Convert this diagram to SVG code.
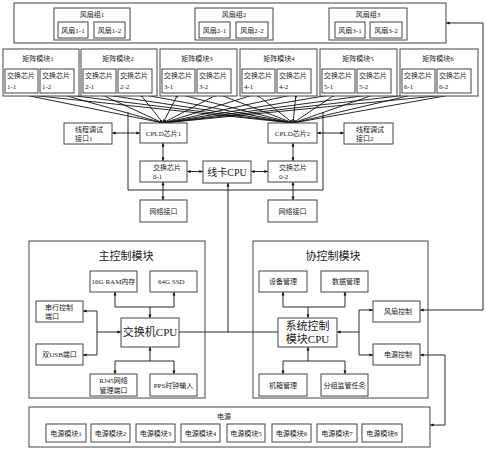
<svg xmlns="http://www.w3.org/2000/svg" width="486" height="450" viewBox="0 0 486 450">
<style>
.b{fill:#fff;stroke:#444;stroke-width:1}
.t{font-family:"Liberation Serif","Noto Sans CJK SC",serif;font-size:7px;fill:#222}
.c{text-anchor:middle}
.L{font-size:11px}
.M{font-size:10px}
.ln{fill:none;stroke:#111;stroke-width:0.9}
.ar{fill:none;stroke:#111;stroke-width:0.9;marker-start:url(#a);marker-end:url(#a)}
.ae{fill:none;stroke:#111;stroke-width:0.9;marker-end:url(#a)}
</style>
<defs>
<marker id="a" viewBox="0 0 6 6" refX="6" refY="3" markerWidth="4" markerHeight="4" orient="auto-start-reverse"><path d="M0,0.5 L6,3 L0,5.5 Z" fill="#111"/></marker>
</defs>
<rect width="486" height="450" fill="#fff"/>

<g id="connectors">
<!-- matrix chips to CPLD1 -->
<path class="ar" d="M20,94 L163,123"/><path class="ar" d="M60,94 L163,123"/><path class="ar" d="M100,94 L163,123"/><path class="ar" d="M140,94 L163,123"/><path class="ar" d="M178,94 L163,123"/><path class="ar" d="M218,94 L163,123"/><path class="ar" d="M256,94 L163,123"/><path class="ar" d="M296,94 L163,123"/><path class="ar" d="M336,94 L163,123"/><path class="ar" d="M376,94 L163,123"/><path class="ar" d="M416,94 L163,123"/><path class="ar" d="M456,94 L163,123"/>
<!-- matrix chips to CPLD2 -->
<path class="ar" d="M20,94 L293,123"/><path class="ar" d="M60,94 L293,123"/><path class="ar" d="M100,94 L293,123"/><path class="ar" d="M140,94 L293,123"/><path class="ar" d="M178,94 L293,123"/><path class="ar" d="M218,94 L293,123"/><path class="ar" d="M256,94 L293,123"/><path class="ar" d="M296,94 L293,123"/><path class="ar" d="M336,94 L293,123"/><path class="ar" d="M376,94 L293,123"/><path class="ar" d="M416,94 L293,123"/><path class="ar" d="M456,94 L293,123"/>
<!-- line card enclosure -->
<path class="ln" d="M128,112 V190 H323 V112"/>
<!-- line card internal -->
<path class="ar" d="M112,133 H140"/>
<path class="ar" d="M317,133 H344"/>
<path class="ar" d="M163,143 V161"/>
<path class="ar" d="M293,143 V161"/>
<path class="ar" d="M187,171.5 H203"/>
<path class="ar" d="M251,171.5 H268"/>
<path class="ar" d="M163,182 V200"/>
<path class="ar" d="M293,182 V200"/>
<!-- line card CPU to main/co control -->
<path class="ae" d="M228,332 V183"/>
<path class="ln" d="M179,332 H278"/>
<!-- main control internal -->
<path class="ae" d="M150,307 V318"/>
<path class="ln" d="M115,307 H174"/>
<path class="ae" d="M115,307 V292"/>
<path class="ae" d="M174,307 V292"/>
<path class="ae" d="M97,332 H121"/>
<path class="ln" d="M97,311 V355"/>
<path class="ae" d="M97,311 H83"/>
<path class="ae" d="M97,355 H83"/>
<path class="ae" d="M150,361 V347"/>
<path class="ln" d="M115,361 H174"/>
<path class="ae" d="M115,361 V374"/>
<path class="ae" d="M174,361 V374"/>
<!-- co control internal -->
<path class="ae" d="M308,307 V318"/>
<path class="ln" d="M283,307 H345"/>
<path class="ae" d="M283,307 V292"/>
<path class="ae" d="M345,307 V292"/>
<path class="ae" d="M359,332 H337"/>
<path class="ln" d="M359,310 V355"/>
<path class="ae" d="M359,310 H373"/>
<path class="ae" d="M359,355 H373"/>
<path class="ae" d="M308,361 V347"/>
<path class="ln" d="M283,361 H345"/>
<path class="ae" d="M283,361 V374"/>
<path class="ae" d="M345,361 V374"/>
<!-- fan control / power control -->
<path class="ar" d="M420,310 H483 V23 H446"/>
<path class="ar" d="M420,355 H445 V425 H430"/>
</g>

<g id="fanbox">
<rect class="b" x="14" y="3" width="432" height="40"/>
</g>
<g id="fangroup1">
<rect class="b" x="54" y="8" width="76" height="32"/>
<text class="t c" x="92" y="17">风扇组1</text>
<rect class="b" x="58" y="22" width="30" height="16"/><text class="t c" x="73" y="32.5">风扇1-1</text>
<rect class="b" x="94" y="22" width="31" height="16"/><text class="t c" x="109.5" y="32.5">风扇1-2</text>
</g>
<g id="fangroup2">
<rect class="b" x="195" y="8" width="78" height="32"/>
<text class="t c" x="234" y="17">风扇组2</text>
<rect class="b" x="199" y="22" width="31" height="16"/><text class="t c" x="214.5" y="32.5">风扇2-1</text>
<rect class="b" x="236" y="22" width="32" height="16"/><text class="t c" x="252" y="32.5">风扇2-2</text>
</g>
<g id="fangroup3">
<rect class="b" x="329" y="8" width="78" height="32"/>
<text class="t c" x="368" y="17">风扇组3</text>
<rect class="b" x="335" y="22" width="30" height="16"/><text class="t c" x="350" y="32.5">风扇3-1</text>
<rect class="b" x="370" y="22" width="32" height="16"/><text class="t c" x="386" y="32.5">风扇3-2</text>
</g>

<g id="matrix1">
<rect class="b" x="3" y="49" width="76" height="47"/>
<text class="t c" x="38" y="61">矩阵模块1</text>
<rect class="b" x="5" y="69" width="33" height="24"/><text class="t" x="7" y="78">交换芯片</text><text class="t" x="7" y="89">1-1</text>
<rect class="b" x="40" y="69" width="34" height="24"/><text class="t" x="42" y="78">交换芯片</text><text class="t" x="42" y="89">1-2</text>
</g>
<g id="matrix2">
<rect class="b" x="81" y="49" width="76" height="47"/>
<text class="t c" x="118" y="61">矩阵模块2</text>
<rect class="b" x="83" y="69" width="33" height="24"/><text class="t" x="85" y="78">交换芯片</text><text class="t" x="85" y="89">2-1</text>
<rect class="b" x="118" y="69" width="34" height="24"/><text class="t" x="120" y="78">交换芯片</text><text class="t" x="120" y="89">2-2</text>
</g>
<g id="matrix3">
<rect class="b" x="160" y="49" width="77" height="47"/>
<text class="t c" x="197" y="61">矩阵模块3</text>
<rect class="b" x="162" y="69" width="33" height="24"/><text class="t" x="164" y="78">交换芯片</text><text class="t" x="164" y="89">3-1</text>
<rect class="b" x="197" y="69" width="34" height="24"/><text class="t" x="199" y="78">交换芯片</text><text class="t" x="199" y="89">3-2</text>
</g>
<g id="matrix4">
<rect class="b" x="240" y="49" width="77" height="47"/>
<text class="t c" x="279" y="61">矩阵模块4</text>
<rect class="b" x="242" y="69" width="33" height="24"/><text class="t" x="244" y="78">交换芯片</text><text class="t" x="244" y="89">4-1</text>
<rect class="b" x="277" y="69" width="34" height="24"/><text class="t" x="279" y="78">交换芯片</text><text class="t" x="279" y="89">4-2</text>
</g>
<g id="matrix5">
<rect class="b" x="320" y="49" width="77" height="47"/>
<text class="t c" x="358" y="61">矩阵模块5</text>
<rect class="b" x="322" y="69" width="33" height="24"/><text class="t" x="324" y="78">交换芯片</text><text class="t" x="324" y="89">5-1</text>
<rect class="b" x="357" y="69" width="34" height="24"/><text class="t" x="359" y="78">交换芯片</text><text class="t" x="359" y="89">5-2</text>
</g>
<g id="matrix6">
<rect class="b" x="400" y="49" width="78" height="47"/>
<text class="t c" x="438" y="61">矩阵模块6</text>
<rect class="b" x="402" y="69" width="33" height="24"/><text class="t" x="404" y="78">交换芯片</text><text class="t" x="404" y="89">6-1</text>
<rect class="b" x="437" y="69" width="34" height="24"/><text class="t" x="439" y="78">交换芯片</text><text class="t" x="439" y="89">6-2</text>
</g>

<g id="debug1"><rect class="b" x="64" y="123" width="48" height="21"/><text class="t" x="75" y="132">线程调试</text><text class="t" x="75" y="141">接口1</text></g>
<g id="debug2"><rect class="b" x="344" y="123" width="49" height="21"/><text class="t" x="356" y="132">线程调试</text><text class="t" x="356" y="141">接口2</text></g>
<g id="cpld1"><rect class="b" x="140" y="123" width="47" height="20"/><text class="t c" x="163.5" y="136">CPLD芯片1</text></g>
<g id="cpld2"><rect class="b" x="268" y="123" width="49" height="20"/><text class="t c" x="292.5" y="136">CPLD芯片2</text></g>
<g id="sw01"><rect class="b" x="140" y="161" width="47" height="21"/><text class="t" x="153" y="170">交换芯片</text><text class="t" x="153" y="179">0-1</text></g>
<g id="sw02"><rect class="b" x="268" y="161" width="49" height="21"/><text class="t" x="279" y="170">交换芯片</text><text class="t" x="279" y="179">0-2</text></g>
<g id="lccpu"><rect class="b" x="203" y="161" width="48" height="22"/><text class="t c M" x="227" y="176">线卡CPU</text></g>
<g id="net1"><rect class="b" x="140" y="200" width="47" height="22"/><text class="t c" x="163.5" y="214">网络接口</text></g>
<g id="net2"><rect class="b" x="268" y="200" width="49" height="22"/><text class="t c" x="292.5" y="214">网络接口</text></g>

<g id="maincontrol">
<rect class="b" x="29" y="241" width="176" height="157" fill="none" style="fill:none"/>
<text class="t c L" x="126" y="260">主控制模块</text>
</g>
<g id="ram"><rect class="b" x="90" y="271" width="47" height="21"/><text class="t c" x="113.5" y="284">16G RAM内存</text></g>
<g id="ssd"><rect class="b" x="150" y="271" width="47" height="21"/><text class="t" x="158" y="284">64G SSD</text></g>
<g id="swcpu"><rect class="b" x="121" y="318" width="58" height="29"/><text class="t c L" x="150" y="336">交换机CPU</text></g>
<g id="serial"><rect class="b" x="36" y="301" width="47" height="21"/><text class="t" x="45" y="310">串行控制</text><text class="t" x="45" y="319">端口</text></g>
<g id="usb"><rect class="b" x="36" y="344" width="47" height="21"/><text class="t c" x="59.5" y="357">双USB端口</text></g>
<g id="rj45"><rect class="b" x="90" y="374" width="47" height="22"/><text class="t c" x="113.5" y="383">RJ45网络</text><text class="t c" x="113.5" y="393">管理端口</text></g>
<g id="pps"><rect class="b" x="150" y="374" width="47" height="22"/><text class="t c" x="173.5" y="388">PPS时钟输入</text></g>

<g id="cocontrol">
<rect class="b" x="253" y="241" width="175" height="157" style="fill:none"/>
<text class="t c L" x="333" y="260">协控制模块</text>
</g>
<g id="devmgmt"><rect class="b" x="259" y="271" width="48" height="21"/><text class="t c" x="283" y="284">设备管理</text></g>
<g id="datamgmt"><rect class="b" x="321" y="271" width="47" height="21"/><text class="t c" x="346" y="284">数据管理</text></g>
<g id="syscpu"><rect class="b" x="278" y="318" width="59" height="29"/><text class="t c L" x="307.5" y="330">系统控制</text><text class="t c L" x="307.5" y="343">模块CPU</text></g>
<g id="chassis"><rect class="b" x="259" y="374" width="48" height="22"/><text class="t c" x="283" y="388">机箱管理</text></g>
<g id="group"><rect class="b" x="321" y="374" width="47" height="22"/><text class="t c" x="344.5" y="388">分组监管任务</text></g>
<g id="fanctl"><rect class="b" x="373" y="301" width="47" height="21"/><text class="t c" x="398" y="314">风扇控制</text></g>
<g id="pwrctl"><rect class="b" x="373" y="344" width="47" height="21"/><text class="t c" x="398" y="357">电源控制</text></g>

<g id="power">
<rect class="b" x="29" y="407" width="401" height="40"/>
<text class="t c" x="224" y="419">电源</text>
<rect class="b" x="46" y="424" width="40" height="18"/><text class="t c" x="66" y="436">电源模块1</text>
<rect class="b" x="91" y="424" width="39" height="18"/><text class="t c" x="110.5" y="436">电源模块2</text>
<rect class="b" x="136" y="424" width="39" height="18"/><text class="t c" x="155.5" y="436">电源模块3</text>
<rect class="b" x="181" y="424" width="39" height="18"/><text class="t c" x="200.5" y="436">电源模块4</text>
<rect class="b" x="227" y="424" width="38" height="18"/><text class="t c" x="246" y="436">电源模块5</text>
<rect class="b" x="272" y="424" width="39" height="18"/><text class="t c" x="291.5" y="436">电源模块6</text>
<rect class="b" x="317" y="424" width="40" height="18"/><text class="t c" x="337" y="436">电源模块7</text>
<rect class="b" x="362" y="424" width="40" height="18"/><text class="t c" x="382" y="436">电源模块8</text>
</g>
</svg>
